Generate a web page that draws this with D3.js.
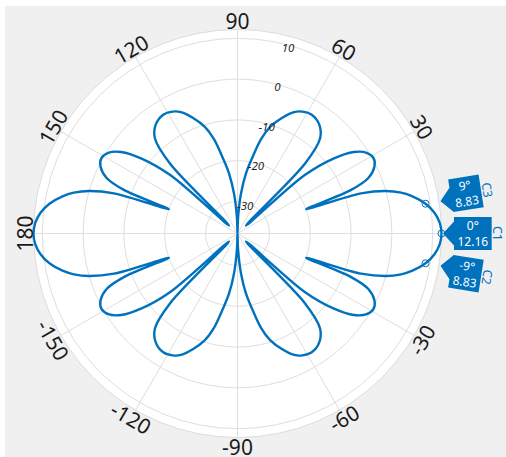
<!DOCTYPE html>
<html><head><meta charset="utf-8">
<script src="https://cdn.jsdelivr.net/npm/d3@7"></script>
<style>
html,body{margin:0;padding:0;background:#fff;}
svg{display:block;font-family:"Noto Sans","Open Sans",sans-serif;}
</style></head>
<body>
<svg id="chart" width="506" height="457"></svg>
<script>
// ---- data ----
const angleTickValues = [90, 60, 30, -30, -60, -90, -120, -150, 180, 150, 120];
const magTickValues = [10, 0, -10, -20, -30];
const magRange = [-37.84, 12.16];
const patternAngles = [
  0,3,6,9,12,14,16,18,19.5,21,23,26,29,32,35,38,41,43.5,46,49,53,58,62,65,69,73,76,79,82,85,88,90,
  92,95,98,101,104,107,111,115,118,122,127,131,134,136.5,139,142,145,148,151,154,157,159,160.5,162,164,166,168,171,174,177,180,
  183,186,189,192,194,196,198,199.5,201,203,206,209,212,215,218,221,223.5,226,229,233,238,242,245,249,253,256,259,262,265,268,270,
  272,275,278,281,284,287,291,295,298,302,307,311,314,316.5,319,322,325,328,331,334,337,339,340.5,342,344,346,348,351,354,357
];
const patternDb = [
  12.16,11.8,10.7,8.83,6.0,3.5,0,-6,-20,-8,-3,-0.5,0.3,-0.5,-3,-8,-16,-35,-14,-7,-4.5,-3.5,-4,-5,-7.5,-10.5,-14,-19,-23,-28,-34,-45,
  -34,-28,-23,-19,-14,-10.5,-7.5,-5,-4,-3.5,-4.5,-7,-14,-35,-16,-8,-3,-0.5,0.3,-0.5,-3,-8,-20,-6,0,3.5,6.0,8.83,10.7,11.8,12.16,
  11.8,10.7,8.83,6.0,3.5,0,-6,-20,-8,-3,-0.5,0.3,-0.5,-3,-8,-16,-35,-14,-7,-4.5,-3.5,-4,-5,-7.5,-10.5,-14,-19,-23,-28,-34,-45,
  -34,-28,-23,-19,-14,-10.5,-7.5,-5,-4,-3.5,-4.5,-7,-14,-35,-16,-8,-3,-0.5,0.3,-0.5,-3,-8,-20,-6,0,3.5,6.0,8.83,10.7,11.8
];
const markerNames = ["C1", "C2", "C3"];
const markerAngles = [0, -9, 9];
const markerValues = [12.16, 8.83, 8.83];

// ---- layout ----
const svg = d3.select("#chart");
const W = 506, H = 457;
const cx = 237.5, cy = 233.5, R = 204;
const blue = "#0072BD";

svg.append("rect").attr("x", 5).attr("y", 6).attr("width", W - 5).attr("height", H - 6).attr("fill", "#f0f0f0");

const r = d3.scaleLinear().domain(magRange).range([0, R]).clamp(true);
const toRad = d => d * Math.PI / 180;
const px = (a, rr) => cx + rr * Math.cos(toRad(a));
const py = (a, rr) => cy - rr * Math.sin(toRad(a));

const g = svg.append("g");
g.append("circle").attr("cx", cx).attr("cy", cy).attr("r", R)
  .attr("fill", "#fff").attr("stroke", "#dcdcdc").attr("stroke-width", 1);

// rings
g.selectAll("circle.ring").data(magTickValues).join("circle").attr("class", "ring")
  .attr("cx", cx).attr("cy", cy).attr("r", d => r(d))
  .attr("fill", "none").attr("stroke", "#dedede").attr("stroke-width", 1);

// spokes
const spokeAngles = d3.range(0, 360, 30);
g.selectAll("line.spoke").data(spokeAngles).join("line").attr("class", "spoke")
  .attr("x1", cx).attr("y1", cy)
  .attr("x2", d => px(d, R)).attr("y2", d => py(d, R))
  .attr("stroke", "#dedede").attr("stroke-width", 1);

// pattern
const pts = patternAngles.map((a, i) => [a, patternDb[i]]);
const line = d3.lineRadial()
  .angle(d => toRad(90 - d[0]))
  .radius(d => r(d[1]))
  .curve(d3.curveCatmullRomClosed.alpha(0.5));
g.append("path").datum(pts)
  .attr("transform", `translate(${cx},${cy})`)
  .attr("d", line).attr("fill", "none").attr("stroke", blue).attr("stroke-width", 2.4)
  .attr("stroke-linejoin", "round");

// magnitude tick labels
const magLabelAngle = 74.8;
g.selectAll("text.mag").data(magTickValues).join("text").attr("class", "mag")
  .attr("x", d => px(magLabelAngle, r(d) - 2.5)).attr("y", d => py(magLabelAngle, r(d) - 2.5))
  .attr("text-anchor", "middle").attr("dominant-baseline", "central")
  .attr("font-size", 11.5).attr("font-style", "italic").attr("fill", "#262626")
  .text(d => d);

// angle tick labels
const labR = 213;
g.selectAll("text.ang").data(angleTickValues).join("text").attr("class", "ang")
  .attr("text-anchor", "middle").attr("dominant-baseline", "central")
  .attr("font-size", 21).attr("fill", "#1a1a1a")
  .attr("transform", d => {
    const x = px(d, labR), y = py(d, labR);
    const rot = d > 0 ? 90 - d : -(d + 90);
    return `translate(${x},${y}) rotate(${d === 180 ? -90 : rot})`;
  })
  .text(d => d);

// markers
markerAngles.forEach((a, i) => {
  g.append("circle").attr("cx", px(a, r(markerValues[i]))).attr("cy", py(a, r(markerValues[i])))
    .attr("r", 3.5).attr("fill", "none").attr("stroke", blue).attr("stroke-width", 1);
});

// marker flags
const tipR = 205.5;
markerAngles.forEach((a, i) => {
  const fg = svg.append("g").attr("transform", `translate(${px(a, tipR)},${py(a, tipR)}) rotate(${-a})`);
  const shift = a > 0 ? -4 : (a < 0 ? 4 : 0);
  const t1 = fg.append("text").attr("text-anchor", "middle").attr("font-size", 12).attr("fill", "#fff")
    .attr("dominant-baseline", "central").text(`${a}°`);
  const t2 = fg.append("text").attr("text-anchor", "middle").attr("font-size", 12).attr("fill", "#fff")
    .attr("dominant-baseline", "central").text(markerValues[i].toFixed(2));
  const w = Math.max(t1.node().getComputedTextLength(), t2.node().getComputedTextLength()) + 7;
  const x0 = 11, y0 = -16.5 + shift, y1 = 16.5 + shift;
  fg.insert("polygon", "text")
    .attr("points", [[0,0],[x0,-12],[x0,y0],[x0+w,y0],[x0+w,y1],[x0,y1],[x0,12]].map(p => p.join(",")).join(" "))
    .attr("fill", blue);
  t1.attr("x", x0 + w / 2).attr("y", shift - 8);
  t2.attr("x", x0 + w / 2).attr("y", shift + 8);
  fg.append("text").attr("font-size", 12.5).attr("fill", blue)
    .attr("text-anchor", "middle").attr("dominant-baseline", "central")
    .attr("transform", `translate(${x0 + w + 6},${shift}) rotate(90)`)
    .text(markerNames[i]);
});
</script>
</body></html>
